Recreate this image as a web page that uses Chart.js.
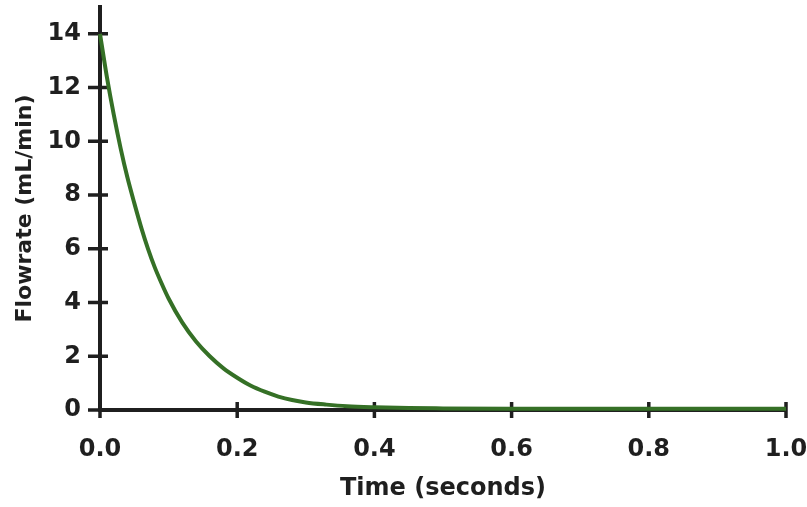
<!DOCTYPE html>
<html>
<head>
<meta charset="utf-8">
<script src="https://cdn.jsdelivr.net/npm/chart.js@4/dist/chart.umd.min.js"></script>
<style>
  html, body { margin: 0; padding: 0; background: #fff; }
  #wrap { width: 807px; height: 507px; position: relative; }
</style>
</head>
<body>
<div id="wrap"><canvas id="c"></canvas></div>
<script>
  // values
  const timeSec = [0, 0.01, 0.02, 0.03, 0.04, 0.05, 0.06, 0.07, 0.08, 0.09, 0.10,
    0.12, 0.14, 0.16, 0.18, 0.20, 0.22, 0.24, 0.26, 0.28, 0.30, 0.33, 0.36,
    0.40, 0.45, 0.50, 0.60, 0.70, 0.80, 0.90, 1.00];
  const flowrate = [14.0, 12.4, 11.0, 9.75, 8.65, 7.7, 6.8, 6.0, 5.3, 4.7, 4.15,
    3.25, 2.55, 2.0, 1.55, 1.2, 0.9, 0.68, 0.5, 0.37, 0.28, 0.2, 0.14,
    0.1, 0.07, 0.06, 0.05, 0.05, 0.05, 0.05, 0.05];
  const xTicks = [0, 0.2, 0.4, 0.6, 0.8, 1.0];
  const yTicks = [0, 2, 4, 6, 8, 10, 12, 14];

  const ink = "#1f1f1f";
  const font = { family: "'DejaVu Sans', sans-serif", weight: "bold", size: 24 };

  // tick marks that cross the axis line, as in the original
  const crossTicks = {
    id: "crossTicks",
    beforeDatasetsDraw(chart) {
      const { ctx, chartArea } = chart;
      const xs = chart.scales.x;
      const ys = chart.scales.y;
      ctx.save();
      ctx.strokeStyle = ink;
      ctx.lineWidth = 3.5;
      ctx.beginPath();
      yTicks.forEach((v) => {
        const p = ys.getPixelForValue(v);
        ctx.moveTo(chartArea.left - 12, p);
        ctx.lineTo(chartArea.left + 8, p);
      });
      xTicks.forEach((v) => {
        const p = xs.getPixelForValue(v);
        ctx.moveTo(p, chartArea.bottom - 8);
        ctx.lineTo(p, chartArea.bottom + 8);
      });
      // y axis runs a little below the x axis
      ctx.moveTo(chartArea.left, chartArea.bottom);
      ctx.lineTo(chartArea.left, chartArea.bottom + 8);
      ctx.stroke();
      ctx.restore();
    },
  };

  new Chart(document.getElementById("c"), {
    type: "line",
    data: {
      datasets: [{
        data: timeSec.map((t, i) => ({ x: t, y: flowrate[i] })),
        borderColor: "#357026",
        borderWidth: 4,
        pointRadius: 0,
        cubicInterpolationMode: "monotone",
        fill: false,
        clip: false,
      }],
    },
    options: {
      responsive: true,
      maintainAspectRatio: false,
      animation: false,
      layout: { padding: { left: 0, right: 21, top: 7, bottom: 0 } },
      plugins: { legend: { display: false }, tooltip: { enabled: false } },
      scales: {
        x: {
          type: "linear",
          min: 0,
          max: 1,
          afterBuildTicks(scale) { scale.ticks = xTicks.map((v) => ({ value: v })); },
          afterFit(scale) {
            scale.height = 97;
            scale.paddingLeft = 0;
            scale.paddingRight = 0;
          },
          grid: { display: false },
          border: { display: true, color: ink, width: 4 },
          ticks: {
            color: ink,
            font,
            padding: 17,
            maxRotation: 0,
            callback(v) { return Number(v).toFixed(1); },
          },
          title: {
            display: true,
            text: "Time (seconds)",
            color: ink,
            font,
            padding: { top: 0, bottom: 4 },
          },
        },
        y: {
          min: 0,
          max: 15,
          afterBuildTicks(scale) { scale.ticks = yTicks.map((v) => ({ value: v })); },
          afterFit(scale) {
            scale.width = 100;
            scale.paddingTop = 0;
            scale.paddingBottom = 0;
          },
          grid: { display: false },
          border: { display: true, color: ink, width: 4 },
          ticks: { color: ink, font, padding: 11 },
          title: {
            display: true,
            text: "Flowrate (mL/min)",
            color: ink,
            font: { ...font, size: 22 },
            padding: { top: 12, bottom: 0 },
          },
        },
      },
    },
    plugins: [crossTicks],
  });
</script>
</body>
</html>
